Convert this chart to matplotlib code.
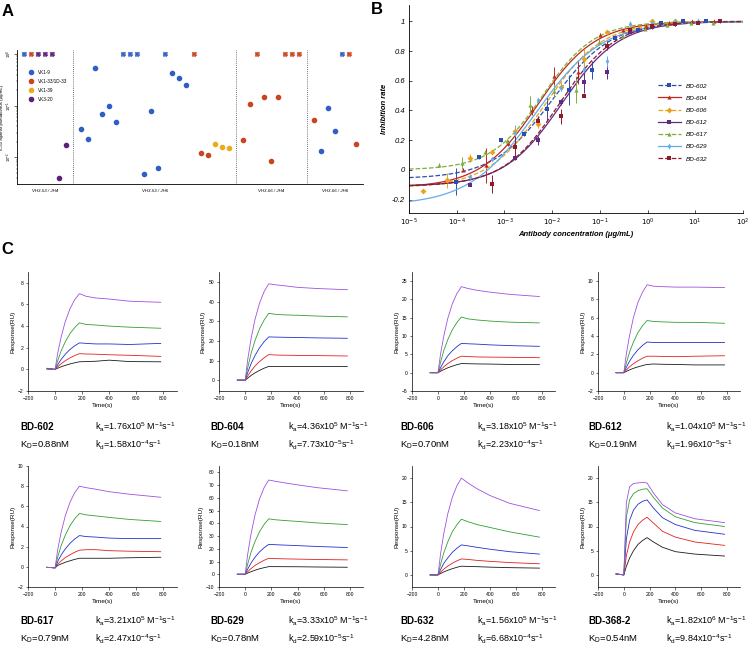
import numpy as np
import matplotlib
matplotlib.use("Agg")
import matplotlib.pyplot as plt
from matplotlib.lines import Line2D
from matplotlib.ticker import FuncFormatter, FixedLocator

plt.rcParams['font.family'] = ['Liberation Sans', 'DejaVu Sans']
plt.rcParams['mathtext.default'] = 'regular'
plt.rcParams['axes.linewidth'] = 0.6

W, H = 750, 648
fig = plt.figure(figsize=(7.5, 6.48), dpi=100)


def ax_px(left, top, right, bottom):
    return fig.add_axes([left / W, 1 - bottom / H, (right - left) / W, (bottom - top) / H])


nan = np.nan
# ---------------- Panel A data ----------------
a_group_labels = ['VH3-53 / JH4', 'VH3-53 / JH6', 'VH3-66 / JH4', 'VH3-66 / JH6']
a_light_labels = ['VK1-9', 'VK1-33/1D-33', 'VK1-39', 'VK3-20']
a_light_colors = ['#2f5fc4', '#c9441f', '#e9ab1b', '#5b1f7c']
a_lc_g1 = [0, 1, 3, 3, 3, 3, 3]
a_lc_g2 = [0] * 16 + [1, 1, 1, 2, 2, 2]
a_lc_g3 = [1] * 9
a_lc_g4 = [1, 0, 0, 0, 0, 1, 1]
a_ic50_g1 = [nan, nan, nan, nan, nan, 0.0039, 0.017]
a_ic50_g2 = [0.036, 0.023, 0.55, 0.069, 0.098, 0.049, nan, nan, nan, 0.0048, 0.079,
             0.0063, nan, 0.43, 0.35, 0.25, nan, 0.012, 0.011, 0.018, 0.016, 0.015]
a_ic50_g3 = [0.022, 0.11, nan, 0.15, 0.0085, 0.15, nan, nan, nan]
a_ic50_g4 = [0.052, 0.013, 0.091, 0.032, nan, nan, 0.018]

# ---------------- Panel B data ----------------
b_names = ['BD-602', 'BD-604', 'BD-606', 'BD-612', 'BD-617', 'BD-629', 'BD-632']
b_colors = ['#2b4fae', '#c0271d', '#eaa21a', '#5e2a84', '#7fae3c', '#63acec', '#8c1b2c']
b_markers = ['s', '^', 'D', 's', '^', 'd', 's']
b_ls = ['--', '-', '--', '-', '--', '-', '--']
conc_602 = [9.8e-5, 2.9e-4, 8.5e-4, 2.6e-3, 7.8e-3, 2.3e-2, 6.9e-2, 0.21, 0.63, 1.9, 5.6, 17]
resp_602 = [-0.08, 0.085, 0.20, 0.245, 0.41, 0.54, 0.67, 0.885, 0.94, 0.99, 1.0, 1.0]
err_602 = [0.09, 0.01, 0.01, 0.02, 0.08, 0.10, 0.06, 0.02, 0.01, 0.005, 0.005, 0.005]
conc_604 = [1.35e-4, 4.1e-4, 1.2e-3, 3.7e-3, 1.1e-2, 3.4e-2, 0.10, 0.31, 0.93, 2.8, 8.5, 25]
resp_604 = [0.0, 0.03, 0.18, 0.40, 0.63, 0.66, 0.91, 0.94, 0.97, 0.99, 1.0, 1.0]
err_604 = [0.01, 0.12, 0.02, 0.03, 0.06, 0.08, 0.01, 0.01, 0.01, 0.01, 0.01, 0.01]
conc_606 = [1.95e-5, 6.2e-5, 1.9e-4, 5.6e-4, 1.7e-3, 5.1e-3, 1.5e-2, 4.7e-2, 0.14, 0.42, 1.26, 3.7]
resp_606 = [-0.14, -0.07, 0.08, 0.12, 0.26, 0.31, 0.56, 0.745, 0.93, 0.95, 1.0, 1.0]
err_606 = [0.01, 0.05, 0.03, 0.01, 0.04, 0.03, 0.03, 0.07, 0.01, 0.01, 0.01, 0.01]
conc_612 = [1.9e-4, 1.7e-3, 5.1e-3, 1.5e-2, 4.6e-2, 0.14, 0.42, 1.26, 3.7, 11.2]
resp_612 = [-0.10, 0.078, 0.20, 0.455, 0.59, 0.66, 0.93, 0.96, 0.98, 0.99]
err_612 = [0.01, 0.01, 0.03, 0.02, 0.07, 0.05, 0.01, 0.01, 0.01, 0.01]
conc_617 = [4.3e-5, 1.3e-4, 3.9e-4, 1.15e-3, 3.5e-3, 1.07e-2, 3.2e-2, 9.8e-2, 0.30, 0.87, 2.6, 8.1, 24]
resp_617 = [0.034, 0.045, 0.12, 0.195, 0.44, 0.53, 0.54, 0.86, 0.90, 0.95, 0.975, 0.99, 0.99]
err_617 = [0.01, 0.04, 0.01, 0.01, 0.06, 0.04, 0.09, 0.02, 0.01, 0.01, 0.01, 0.01, 0.01]
conc_629 = [1.9e-4, 5.6e-4, 1.7e-3, 5.1e-3, 1.5e-2, 4.6e-2, 0.14, 0.42, 1.26, 3.7, 11.2]
resp_629 = [-0.05, 0.074, 0.247, 0.47, 0.553, 0.68, 0.73, 0.985, 0.99, 1.0, 1.0]
err_629 = [0.02, 0.01, 0.05, 0.01, 0.02, 0.02, 0.04, 0.02, 0.01, 0.01, 0.01]
conc_632 = [5.6e-4, 1.7e-3, 5.1e-3, 1.5e-2, 4.6e-2, 0.14, 0.42, 1.26, 3.7, 11.2, 33]
resp_632 = [-0.094, 0.157, 0.33, 0.36, 0.50, 0.835, 0.94, 0.97, 0.98, 0.99, 1.0]
err_632 = [0.06, 0.07, 0.03, 0.05, 0.01, 0.03, 0.01, 0.01, 0.01, 0.01, 0.01]
# fitted 4-parameter logistic curves: bottom, top, log10 EC50, hill slope
fit_bottom = [-0.06, -0.12, -0.12, -0.11, 0.0, -0.24, -0.11]
fit_top = [1.0, 1.0, 1.0, 1.0, 1.0, 1.0, 1.0]
fit_logec50 = [-2.0, -2.3, -2.15, -1.8, -2.2, -2.35, -1.85]
fit_hill = [0.70, 0.72, 0.72, 0.72, 0.80, 0.62, 0.74]

# ---------------- Panel C data ----------------
spr_time = [-60, 0, 20, 45, 75, 110, 145, 180, 230, 300, 400, 550, 780]
spr_colors = ['#1a1a1a', '#e02020', '#2030d0', '#30a030', '#a050e0']
spr_names = ['BD-602', 'BD-604', 'BD-606', 'BD-612', 'BD-617', 'BD-629', 'BD-632', 'BD-368-2']
spr_ka = ['1.76x10$^{5}$', '4.36x10$^{5}$', '3.18x10$^{5}$', '1.04x10$^{5}$',
          '3.21x10$^{5}$', '3.33x10$^{5}$', '1.56x10$^{5}$', '1.82x10$^{6}$']
spr_kd = ['1.58x10$^{-4}$', '7.73x10$^{-5}$', '2.23x10$^{-4}$', '1.96x10$^{-5}$',
          '2.47x10$^{-4}$', '2.59x10$^{-5}$', '6.68x10$^{-4}$', '9.84x10$^{-4}$']
spr_KD = ['0.88nM', '0.18nM', '0.70nM', '0.19nM', '0.79nM', '0.78nM', '4.28nM', '0.54nM']
spr_ylim = [(-2, 9), (-5.5, 55), (-5, 27.5), (-2, 11), (-2, 10), (-10, 85), (-2.5, 22.5), (-2.5, 22.5)]
spr_yticks = [np.arange(-2, 9, 2), np.arange(0, 51, 10), np.arange(-5, 26, 5), np.arange(-2, 11, 2),
              np.arange(-2, 11, 2), np.arange(-10, 81, 10), np.arange(0, 21, 5), np.arange(0, 21, 5)]

spr_602 = [[0.05, 0.0, 0.11, 0.24, 0.37, 0.50, 0.61, 0.70, 0.72, 0.75, 0.85, 0.72, 0.70],
           [0.10, 0.0, 0.25, 0.52, 0.80, 1.06, 1.28, 1.45, 1.42, 1.40, 1.35, 1.30, 1.20],
           [0.05, 0.0, 0.44, 0.93, 1.40, 1.84, 2.18, 2.45, 2.40, 2.35, 2.35, 2.30, 2.40],
           [0.05, 0.0, 0.82, 1.72, 2.54, 3.31, 3.87, 4.30, 4.15, 4.10, 4.00, 3.90, 3.80],
           [0.05, 0.0, 1.54, 3.01, 4.41, 5.60, 6.44, 7.00, 6.75, 6.60, 6.50, 6.30, 6.20]]
spr_604 = [[0, 0, 1.1, 2.4, 3.7, 5.0, 6.1, 7.0, 7.0, 7.0, 7.0, 7.0, 7.0],
           [0, 0, 2.2, 4.7, 7.2, 9.5, 11.4, 13.0, 12.8, 12.7, 12.6, 12.5, 12.3],
           [0, 0, 4.0, 8.4, 12.5, 16.5, 19.6, 22.0, 21.9, 21.8, 21.7, 21.5, 21.3],
           [0, 0, 6.5, 13.6, 20.1, 26.2, 30.6, 34.0, 33.5, 33.2, 33.0, 32.6, 32.2],
           [0, 0, 10.8, 21.1, 30.9, 39.2, 45.1, 49.0, 48.5, 48.0, 47.2, 46.6, 46.0]]
spr_606 = [[0, 0, 0.40, 0.85, 1.33, 1.78, 2.18, 2.50, 2.45, 2.40, 2.35, 2.25, 2.20],
           [0, 0, 0.77, 1.62, 2.48, 3.29, 3.96, 4.50, 4.40, 4.30, 4.25, 4.20, 4.10],
           [0, 0, 1.4, 3.0, 4.6, 6.0, 7.1, 8.0, 7.9, 7.8, 7.6, 7.4, 7.2],
           [0, 0, 2.9, 6.1, 9.0, 11.7, 13.7, 15.2, 14.7, 14.4, 14.1, 13.8, 13.6],
           [0, 0, 5.2, 10.1, 14.8, 18.8, 21.6, 23.5, 23.0, 22.5, 22.0, 21.4, 20.8]]
spr_612 = [[0, 0, 0.14, 0.31, 0.48, 0.64, 0.78, 0.90, 0.95, 0.92, 0.90, 0.85, 0.85],
           [0, 0, 0.31, 0.65, 0.99, 1.31, 1.58, 1.80, 1.80, 1.78, 1.75, 1.80, 1.85],
           [0, 0, 0.60, 1.27, 1.91, 2.51, 2.98, 3.35, 3.30, 3.30, 3.30, 3.30, 3.30],
           [0, 0, 1.08, 2.28, 3.36, 4.39, 5.13, 5.70, 5.60, 5.55, 5.50, 5.50, 5.40],
           [0, 0, 2.1, 4.1, 6.05, 7.7, 8.8, 9.6, 9.45, 9.40, 9.35, 9.35, 9.30]]
spr_617 = [[-0.05, -0.1, 0.14, 0.29, 0.45, 0.60, 0.74, 0.85, 0.85, 0.85, 0.85, 0.90, 0.95],
           [-0.05, -0.1, 0.28, 0.59, 0.91, 1.20, 1.45, 1.65, 1.70, 1.70, 1.60, 1.55, 1.50],
           [-0.05, -0.1, 0.56, 1.18, 1.77, 2.33, 2.76, 3.10, 3.00, 2.95, 2.85, 2.80, 2.80],
           [-0.05, -0.1, 1.00, 2.12, 3.13, 4.08, 4.77, 5.30, 5.15, 5.05, 4.90, 4.70, 4.50],
           [-0.05, -0.1, 1.76, 3.44, 5.04, 6.40, 7.36, 8.00, 7.85, 7.70, 7.45, 7.20, 6.90]]
spr_629 = [[0, 0, 0.96, 2.0, 3.2, 4.3, 5.2, 6.0, 6.0, 5.95, 5.9, 5.7, 5.5],
           [0, 0, 2.1, 4.5, 6.9, 9.1, 11.0, 12.5, 12.3, 12.1, 11.9, 11.6, 11.3],
           [0, 0, 4.2, 8.9, 13.4, 17.6, 20.9, 23.5, 23.2, 22.9, 22.5, 21.8, 21.0],
           [0, 0, 8.3, 17.4, 25.7, 33.5, 39.2, 43.5, 42.8, 42.2, 41.5, 40.3, 39.0],
           [0, 0, 16.3, 31.8, 46.6, 59.2, 68.1, 74.0, 73.0, 71.8, 70.2, 68.0, 65.5]]
spr_632 = [[0, 0, 0.29, 0.61, 0.95, 1.28, 1.57, 1.80, 1.75, 1.70, 1.60, 1.50, 1.40],
           [0, 0, 0.56, 1.19, 1.82, 2.41, 2.90, 3.30, 3.20, 3.00, 2.80, 2.55, 2.30],
           [0, 0, 1.1, 2.4, 3.5, 4.65, 5.5, 6.2, 6.0, 5.7, 5.3, 4.8, 4.3],
           [0, 0, 2.2, 4.6, 6.8, 8.9, 10.35, 11.5, 11.0, 10.4, 9.8, 8.9, 7.8],
           [0, 0, 4.4, 8.6, 12.6, 16.0, 18.4, 20.0, 19.0, 17.8, 16.4, 14.8, 13.3]]
spr_368 = [[0.2, 0, 1.8, 3.5, 5.0, 6.3, 7.1, 7.7, 6.8, 5.7, 4.8, 4.3, 3.9],
           [0.2, 0, 4.0, 6.8, 8.9, 10.4, 11.3, 11.9, 10.7, 9.0, 7.8, 6.8, 6.1],
           [0.2, 0, 7.5, 11.3, 13.4, 14.6, 15.2, 15.5, 13.8, 11.8, 10.4, 9.2, 8.4],
           [0.2, 0, 12.0, 15.5, 16.8, 17.4, 17.7, 17.8, 16.0, 13.8, 12.0, 10.8, 10.0],
           [0.2, 0, 15.0, 18.2, 18.9, 19.0, 19.1, 19.0, 16.9, 14.5, 12.8, 11.6, 10.8]]

# ======================= Panel A =======================
axA = ax_px(17, 50, 363, 184)
groups_lc = [a_lc_g1, a_lc_g2, a_lc_g3, a_lc_g4]
groups_ic = [a_ic50_g1, a_ic50_g2, a_ic50_g3, a_ic50_g4]
pos = 0
centers = []
for gi, (lcs, ics) in enumerate(zip(groups_lc, groups_ic)):
    start = pos
    for lc, ic in zip(lcs, ics):
        col = a_light_colors[lc]
        if np.isnan(ic):
            axA.plot(pos, 1.0, marker='X', ms=3.6, color=col, mec=col, mew=0.3, ls='none', clip_on=False)
        else:
            axA.plot(pos, ic, marker='o', ms=3.0, color=col, mec=col, ls='none')
        pos += 1
    centers.append((start + pos - 1) / 2)
    if gi < 3:
        axA.axvline(pos, color='#444444', ls=(0, (1, 1.5)), lw=0.6)
        pos += 1
axA.set_yscale('log')
axA.set_xlim(-1, 48)
axA.set_ylim(10 ** -2.52, 10 ** 0.08)
axA.set_xticks([])
for c, lab in zip(centers, a_group_labels):
    axA.text(c, -0.04, lab, transform=axA.get_xaxis_transform(), ha='center', va='top',
             fontsize=3.2, style='italic')
axA.set_yticks([1e-2, 1e-1, 1])
axA.set_yticklabels(['$10^{-2}$', '$10^{-1}$', '$10^{0}$'], fontsize=3.0, rotation=90, va='center')
axA.tick_params(axis='y', length=2, width=0.4, pad=0.5)
axA.tick_params(axis='y', which='minor', length=1, width=0.3)
axA.set_ylabel('IC50 against pseudovirus (μg/mL)', fontsize=3.2)
axA.yaxis.set_label_coords(-0.037, 0.5)
for s in ['top', 'right']:
    axA.spines[s].set_visible(False)
handles = [Line2D([], [], marker='o', ms=3, color=c, ls='none') for c in a_light_colors]
axA.legend(handles, a_light_labels, loc='upper left', bbox_to_anchor=(0.02, 0.87), frameon=False,
           fontsize=3.3, handletextpad=0.6, labelspacing=0.9, borderpad=0)

# ======================= Panel B =======================
axB = ax_px(409, 5, 743, 213)
b_conc = [conc_602, conc_604, conc_606, conc_612, conc_617, conc_629, conc_632]
b_resp = [resp_602, resp_604, resp_606, resp_612, resp_617, resp_629, resp_632]
b_err = [err_602, err_604, err_606, err_612, err_617, err_629, err_632]
xx = np.logspace(-5, 2, 400)
handlesB = []
for i in range(7):
    c = b_colors[i]
    yy = fit_bottom[i] + (fit_top[i] - fit_bottom[i]) / (1 + 10 ** ((fit_logec50[i] - np.log10(xx)) * fit_hill[i]))
    axB.plot(xx, yy, color=c, ls=b_ls[i], lw=0.9)
    axB.errorbar(b_conc[i], b_resp[i], yerr=b_err[i], fmt=b_markers[i], color=c, ms=3.0,
                 elinewidth=0.7, capsize=1.3, capthick=0.6, mew=0)
    handlesB.append(Line2D([], [], color=c, ls=b_ls[i], lw=0.9, marker=b_markers[i], ms=3.0, mew=0))
axB.set_xscale('log')
axB.set_xlim(1e-5, 1e2)
axB.set_ylim(-0.29, 1.11)
axB.set_xticks([10.0 ** k for k in range(-5, 3)])
axB.xaxis.set_minor_locator(FixedLocator([]))
axB.set_xticklabels([r'$\mathit{10^{%d}}$' % k for k in range(-5, 3)], fontsize=5)
axB.set_yticks([-0.2, 0, 0.2, 0.4, 0.6, 0.8, 1])
axB.yaxis.set_major_formatter(FuncFormatter(lambda v, p: '%g' % round(v, 1)))
for t in axB.get_yticklabels():
    t.set_fontstyle('italic')
    t.set_fontsize(5.5)
axB.tick_params(direction='in', length=2.5, width=0.5, pad=3)
axB.set_xlabel('Antibody concentration (μg/mL)', fontsize=5.5, fontweight='bold', style='italic', labelpad=2)
axB.set_ylabel('Inhibition rate', fontsize=5.5, fontweight='bold', style='italic', labelpad=3)
for s in ['top', 'right']:
    axB.spines[s].set_visible(False)
axB.legend(handlesB, b_names, loc='upper left', bbox_to_anchor=(0.735, 0.64), frameon=False,
           prop={'size': 4.6, 'style': 'italic'}, handlelength=3.6, labelspacing=1.05, borderpad=0,
           handletextpad=0.8)

# ======================= Panel C =======================
spr_data = [spr_602, spr_604, spr_606, spr_612, spr_617, spr_629, spr_632, spr_368]
col_left = [28, 219, 412, 598]
col_right = [177, 363, 555, 740]
row_top = [272, 466]
row_bot = [391, 587]
name_x = [20, 210, 400, 588]
k_x = [95, 288, 477, 666]
row_name_y = [427, 621]
row_kd_y = [445, 639]
for i in range(8):
    r, cidx = divmod(i, 4)
    ax = ax_px(col_left[cidx], row_top[r], col_right[cidx], row_bot[r])
    for curve, col in zip(spr_data[i], spr_colors):
        ax.plot(spr_time, curve, color=col, lw=0.6)
    ax.set_xlim(-200, 900)
    ax.set_ylim(*spr_ylim[i])
    ax.set_xticks(np.arange(-200, 801, 200))
    ax.set_yticks(spr_yticks[i])
    ax.tick_params(labelsize=3.6, length=1.8, width=0.4, pad=1.5)
    for s in ['top', 'right']:
        ax.spines[s].set_visible(False)
    ax.spines['left'].set_linewidth(0.5)
    ax.spines['bottom'].set_linewidth(0.5)
    ax.set_xlabel('Time(s)', fontsize=4.6, labelpad=1.5)
    ax.set_ylabel('Response(RU)', fontsize=4.6, labelpad=2)
    ny = 1 - row_name_y[r] / H
    ky = 1 - row_kd_y[r] / H
    fig.text(name_x[cidx] / W, ny, spr_names[i], fontsize=7, fontweight='bold', va='center')
    fig.text(k_x[cidx] / W, ny, 'k$_{a}$=' + spr_ka[i] + ' M$^{-1}$s$^{-1}$', fontsize=6.5, va='center')
    fig.text(name_x[cidx] / W, ky, 'K$_{D}$=' + spr_KD[i], fontsize=6.8, va='center')
    fig.text(k_x[cidx] / W, ky, 'k$_{d}$=' + spr_kd[i] + 's$^{-1}$', fontsize=6.5, va='center')

# panel labels
fig.text(2 / W, 1 - 11 / H, 'A', fontsize=12, fontweight='bold', va='center')
fig.text(371 / W, 1 - 10 / H, 'B', fontsize=12, fontweight='bold', va='center')
fig.text(1 / W, 1 - 250 / H, 'C', fontsize=12, fontweight='bold', va='center')

fig.savefig('out.png', dpi=100)
